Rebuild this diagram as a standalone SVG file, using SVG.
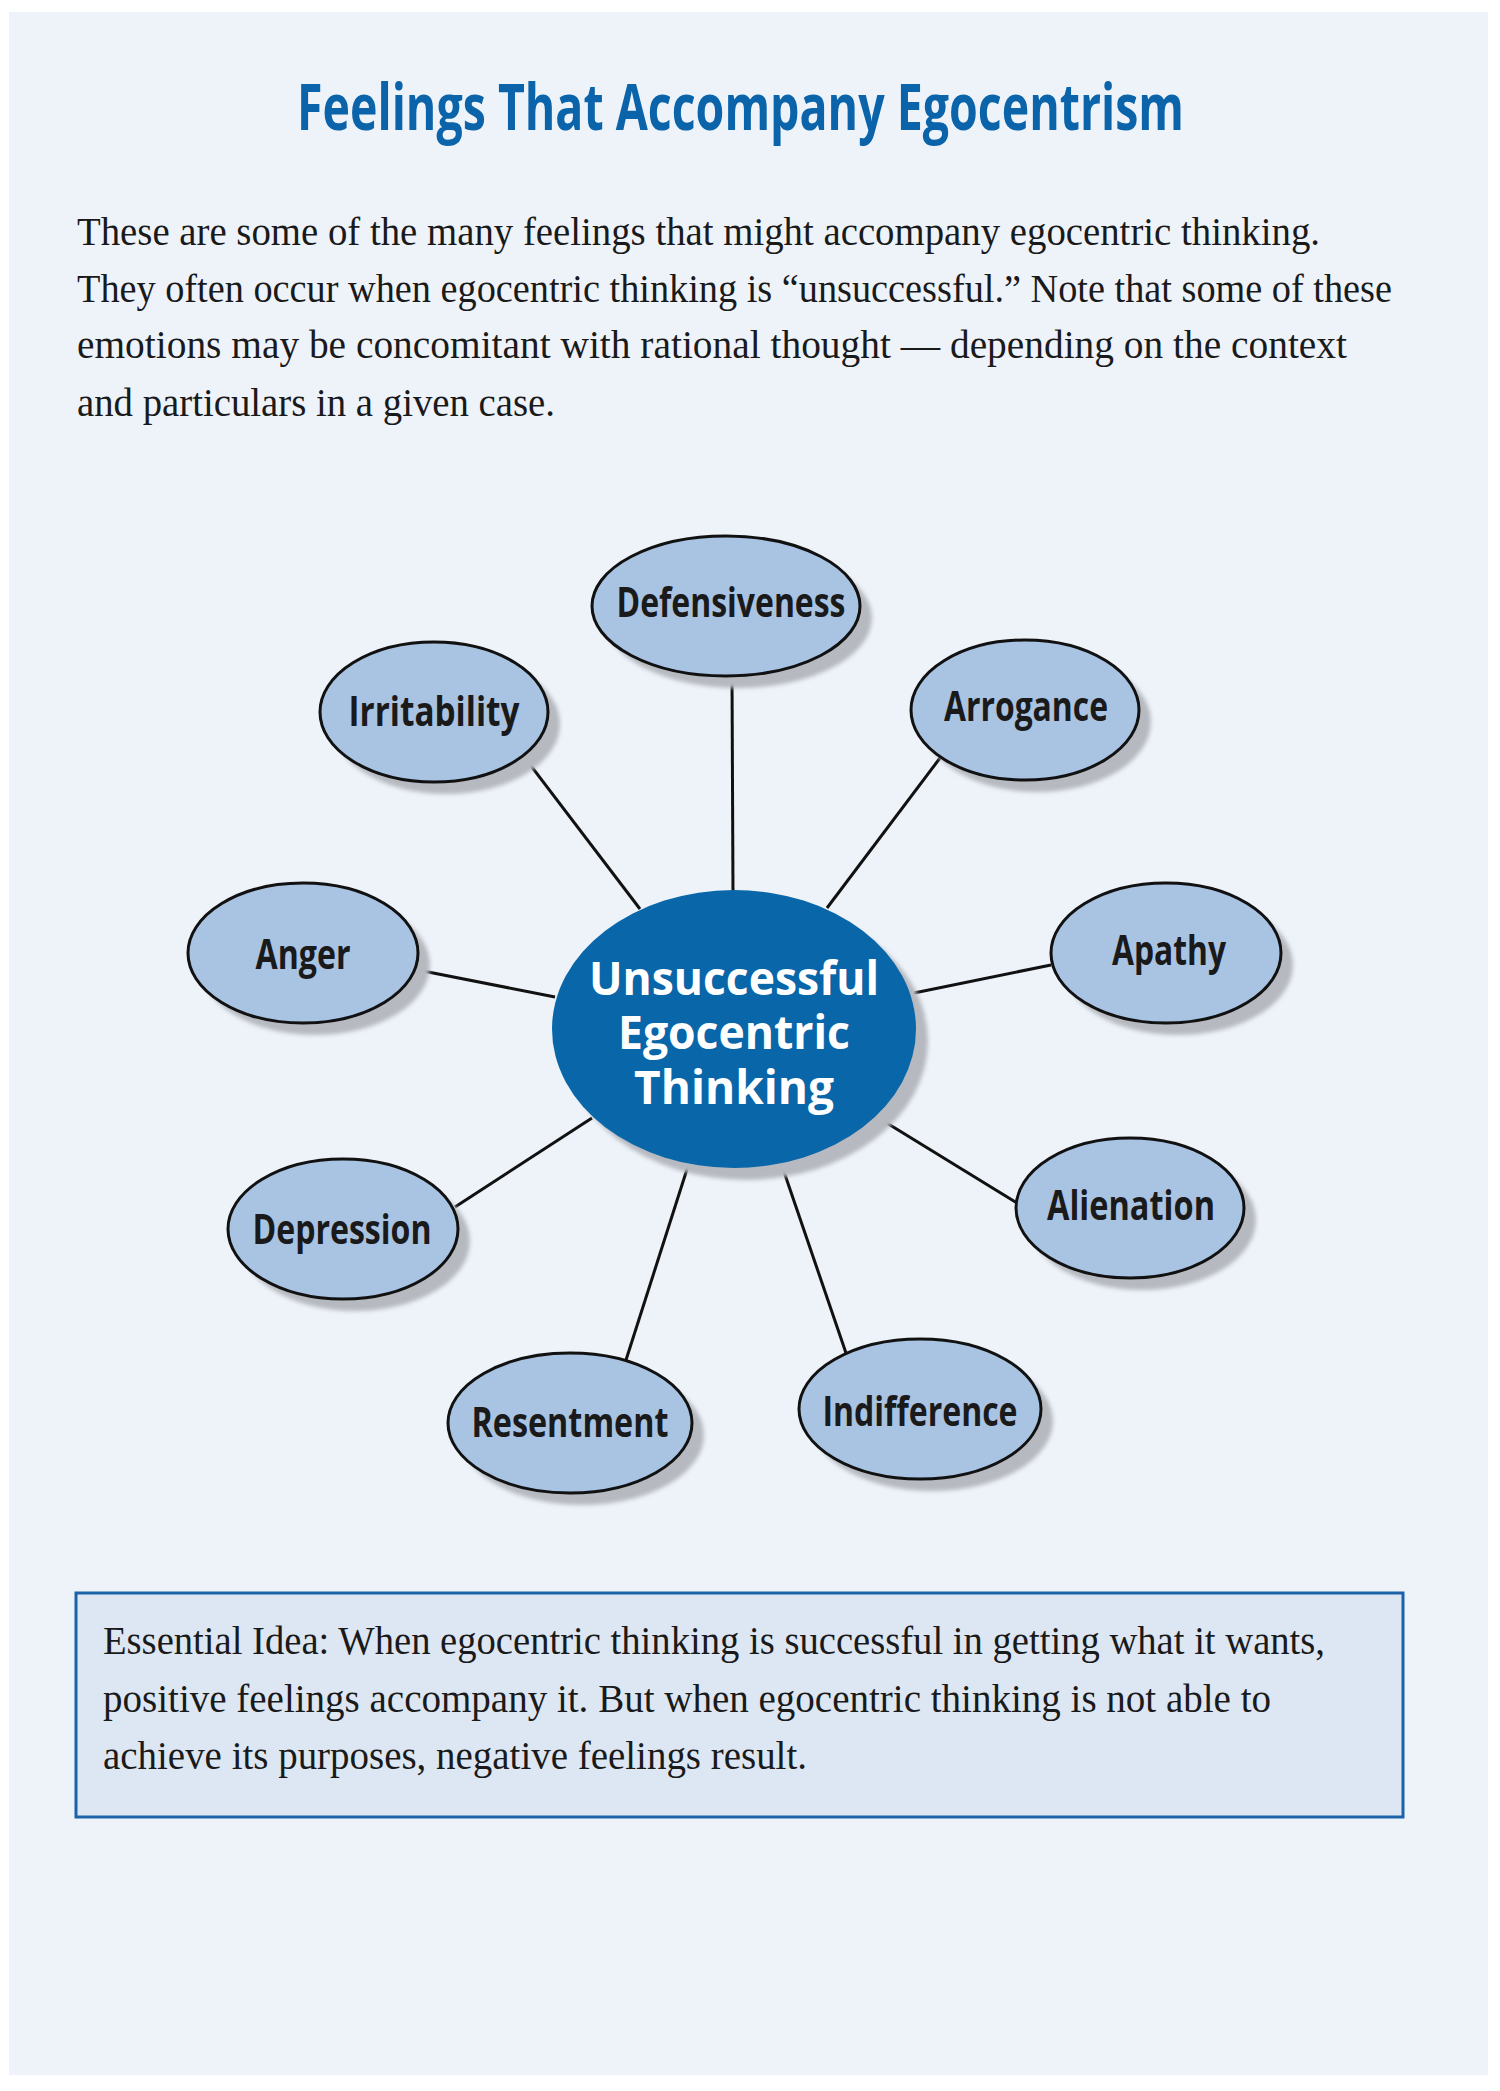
<svg xmlns="http://www.w3.org/2000/svg" width="1500" height="2091" viewBox="0 0 1500 2091">
<defs>
<filter id="blur" x="-10%" y="-10%" width="120%" height="120%"><feGaussianBlur stdDeviation="2"/></filter>
</defs>
<style>
.title{font-family:"Open Sans","Liberation Sans",sans-serif;font-weight:bold;font-size:64px;fill:#0b64aa}
.para{font-family:"Liberation Serif","DejaVu Serif",serif;font-size:40px;fill:#1a1a1a}
.shadow{fill:#b6b9bf;filter:url(#blur)}
.sat{fill:#a9c3e3;stroke:#111;stroke-width:3}
.lbl{font-family:"Open Sans","Liberation Sans",sans-serif;font-weight:bold;font-size:41px;fill:#1a1a1a;text-anchor:middle}
.ctr{fill:#0866a9}
.ctrlbl{font-family:"Open Sans","Liberation Sans",sans-serif;font-weight:bold;font-size:46px;fill:#ffffff;text-anchor:middle}
.conn line{stroke:#111;stroke-width:3}
</style>
<rect x="0" y="0" width="1500" height="2091" fill="#ffffff"/>
<rect x="9" y="12" width="1479" height="2063" fill="#eef3fa"/>
<text class="title" x="297" y="130" textLength="887" lengthAdjust="spacingAndGlyphs">Feelings That Accompany Egocentrism</text>
<g id="intro">
<text class="para" x="77" y="245" textLength="1243" lengthAdjust="spacingAndGlyphs">These are some of the many feelings that might accompany egocentric thinking.</text>
<text class="para" x="77" y="302" textLength="1315" lengthAdjust="spacingAndGlyphs">They often occur when egocentric thinking is “unsuccessful.” Note that some of these</text>
<text class="para" x="77" y="358" textLength="1270" lengthAdjust="spacingAndGlyphs">emotions may be concomitant with rational thought — depending on the context</text>
<text class="para" x="77" y="416" textLength="478" lengthAdjust="spacingAndGlyphs">and particulars in a given case.</text>
</g>
<g id="connectors" class="conn">
<line x1="732" y1="676" x2="733" y2="892"/>
<line x1="525" y1="758" x2="640" y2="909"/>
<line x1="940" y1="758" x2="827" y2="908"/>
<line x1="418" y1="970" x2="555" y2="997"/>
<line x1="1051" y1="965" x2="914" y2="993"/>
<line x1="455" y1="1207" x2="592" y2="1118"/>
<line x1="1017" y1="1203" x2="877" y2="1117"/>
<line x1="626" y1="1360" x2="689" y2="1163"/>
<line x1="846" y1="1353" x2="781" y2="1163"/>
</g>
<g id="center">
<ellipse class="shadow" cx="746" cy="1041" rx="182" ry="139"/>
<ellipse class="ctr" cx="734" cy="1029" rx="182" ry="139"/>
<text class="ctrlbl" x="734" y="995" textLength="290" lengthAdjust="spacingAndGlyphs">Unsuccessful</text>
<text class="ctrlbl" x="734" y="1049" textLength="232" lengthAdjust="spacingAndGlyphs">Egocentric</text>
<text class="ctrlbl" x="734" y="1104" textLength="200" lengthAdjust="spacingAndGlyphs">Thinking</text>
</g>
<g id="defensiveness">
<ellipse class="shadow" cx="738" cy="618" rx="134" ry="70"/>
<ellipse class="sat" cx="726" cy="606" rx="134" ry="70"/>
<text class="lbl" x="731" y="617" textLength="229" lengthAdjust="spacingAndGlyphs">Defensiveness</text>
</g>
<g id="irritability">
<ellipse class="shadow" cx="446" cy="724" rx="114" ry="70"/>
<ellipse class="sat" cx="434" cy="712" rx="114" ry="70"/>
<text class="lbl" x="434" y="726" textLength="171" lengthAdjust="spacingAndGlyphs">Irritability</text>
</g>
<g id="arrogance">
<ellipse class="shadow" cx="1037" cy="722" rx="114" ry="70"/>
<ellipse class="sat" cx="1025" cy="710" rx="114" ry="70"/>
<text class="lbl" x="1026" y="721" textLength="164" lengthAdjust="spacingAndGlyphs">Arrogance</text>
</g>
<g id="anger">
<ellipse class="shadow" cx="315" cy="965" rx="115" ry="70"/>
<ellipse class="sat" cx="303" cy="953" rx="115" ry="70"/>
<text class="lbl" x="303" y="969" textLength="95" lengthAdjust="spacingAndGlyphs">Anger</text>
</g>
<g id="apathy">
<ellipse class="shadow" cx="1178" cy="965" rx="115" ry="70"/>
<ellipse class="sat" cx="1166" cy="953" rx="115" ry="70"/>
<text class="lbl" x="1169" y="965" textLength="114" lengthAdjust="spacingAndGlyphs">Apathy</text>
</g>
<g id="depression">
<ellipse class="shadow" cx="355" cy="1241" rx="115" ry="70"/>
<ellipse class="sat" cx="343" cy="1229" rx="115" ry="70"/>
<text class="lbl" x="342" y="1244" textLength="179" lengthAdjust="spacingAndGlyphs">Depression</text>
</g>
<g id="alienation">
<ellipse class="shadow" cx="1142" cy="1220" rx="114" ry="70"/>
<ellipse class="sat" cx="1130" cy="1208" rx="114" ry="70"/>
<text class="lbl" x="1131" y="1220" textLength="168" lengthAdjust="spacingAndGlyphs">Alienation</text>
</g>
<g id="resentment">
<ellipse class="shadow" cx="582" cy="1435" rx="122" ry="70"/>
<ellipse class="sat" cx="570" cy="1423" rx="122" ry="70"/>
<text class="lbl" x="570" y="1437" textLength="197" lengthAdjust="spacingAndGlyphs">Resentment</text>
</g>
<g id="indifference">
<ellipse class="shadow" cx="932" cy="1421" rx="121" ry="70"/>
<ellipse class="sat" cx="920" cy="1409" rx="121" ry="70"/>
<text class="lbl" x="920" y="1426" textLength="195" lengthAdjust="spacingAndGlyphs">Indifference</text>
</g>
<g id="essential">
<rect x="76" y="1593" width="1327" height="224" fill="#dde7f3" stroke="#1a63a8" stroke-width="3"/>
<text class="para" x="103" y="1654" textLength="1222" lengthAdjust="spacingAndGlyphs">Essential Idea: When egocentric thinking is successful in getting what it wants,</text>
<text class="para" x="103" y="1712" textLength="1168" lengthAdjust="spacingAndGlyphs">positive feelings accompany it. But when egocentric thinking is not able to</text>
<text class="para" x="103" y="1769" textLength="704" lengthAdjust="spacingAndGlyphs">achieve its purposes, negative feelings result.</text>
</g>
</svg>
